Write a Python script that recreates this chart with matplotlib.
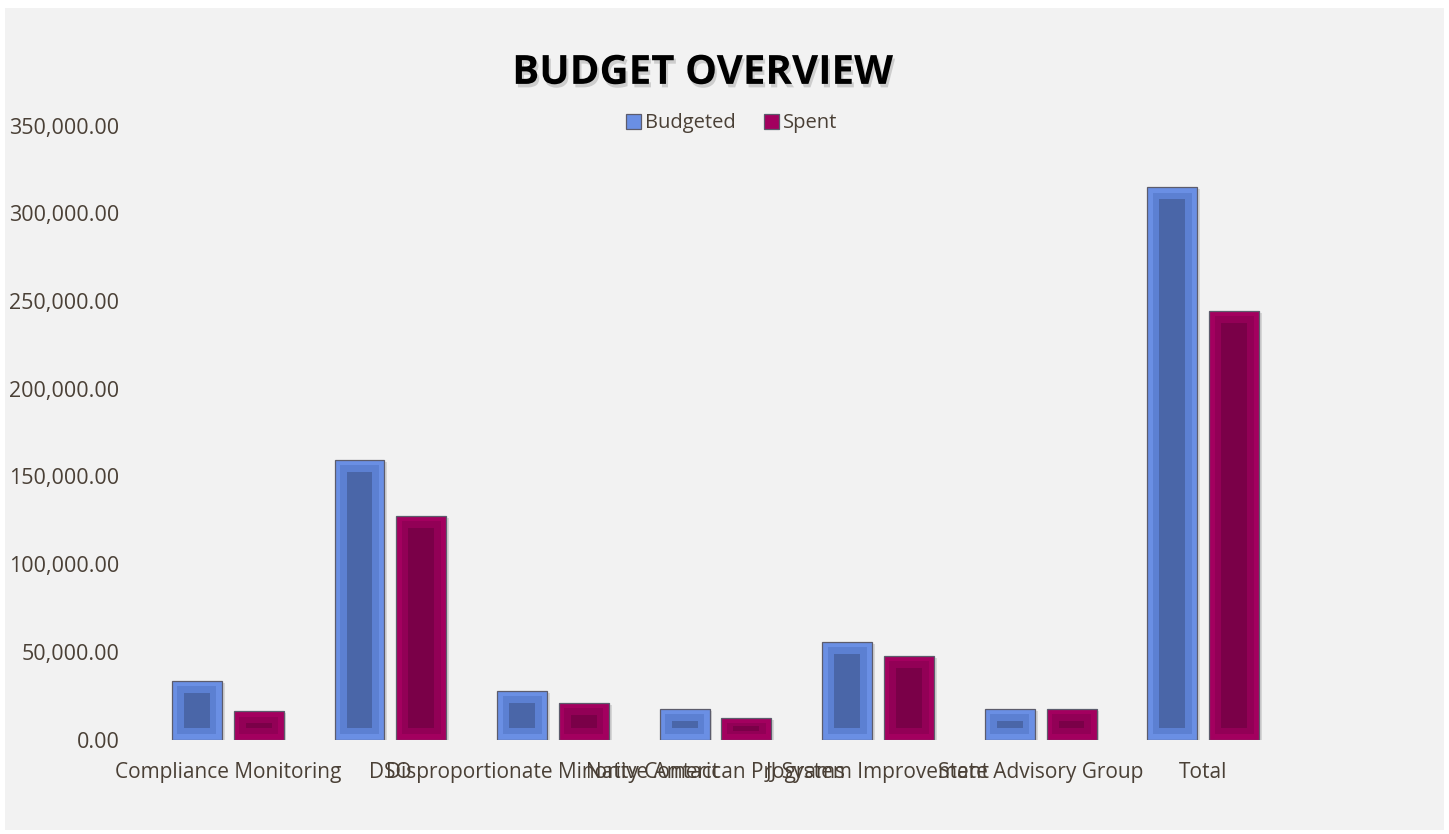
import matplotlib.pyplot as plt
import matplotlib.patheffects as pe
from matplotlib.patches import Rectangle
from matplotlib.ticker import FuncFormatter
import numpy as np

# Program budget figures
categories = [
    "Compliance Monitoring",
    "DSO",
    "Disproportionate Minority Contact",
    "Native American Programs",
    "JJ System Improvement",
    "State Advisory Group",
    "Total",
]
budgeted = [33520, 159320, 27820, 17390, 55750, 17560, 314770]
spent = [16070, 127400, 20980, 12430, 47770, 17560, 244430]

text_color = "#4a4036"

fig = plt.figure(figsize=(14.49, 8.34), dpi=100, facecolor="white")
# light grey chart panel behind everything
panel = Rectangle((5 / 1449, 4 / 834), 1439 / 1449, 822 / 834,
                  transform=fig.transFigure, facecolor="#f2f2f2",
                  edgecolor="none", zorder=-10)
fig.add_artist(panel)

ax = fig.add_axes([0.1011, 0.1133, 0.7854, 0.7362])
ax.set_facecolor("none")

x = np.arange(len(categories))
bar_w = 0.307
offset = 0.19
ymax = 350000
px_per_unit = (0.7362 * 834) / ymax
inset_x = 0.074
inset_px = 12


def bevel_bars(xpos, values, light, mid, dark, label):
    # outer frame with a soft drop shadow
    ax.bar(xpos, values, width=bar_w, color=light, edgecolor="#5c5c6c",
           linewidth=0.9, label=label, zorder=3,
           path_effects=[pe.SimplePatchShadow(offset=(2, -1.5), shadow_rgbFace="#a0a0a0",
                                              alpha=0.35), pe.Normal()])
    vals = np.array(values, dtype=float)
    heights_px = vals * px_per_unit
    # middle and inner bevel layers
    for frac, col in ((0.45, mid), (1.0, dark)):
        ins = np.minimum(inset_px * frac, heights_px * 0.4) / px_per_unit
        ax.bar(xpos, vals - 2 * ins, bottom=ins, width=bar_w - 2 * inset_x * frac,
               color=col, edgecolor="none", zorder=4)


bevel_bars(x - offset, budgeted, "#6a8fe4", "#5c80d2", "#4a66a8", "Budgeted")
bevel_bars(x + offset, spent, "#a3005f", "#920056", "#7a0048", "Spent")

ax.set_xlim(-0.5, len(categories) - 0.5)
ax.set_ylim(0, ymax)
ax.set_yticks(np.arange(0, ymax + 1, 50000))
ax.yaxis.set_major_formatter(FuncFormatter(lambda v, p: f"{v:,.2f}"))
ax.set_xticks(x)
ax.set_xticklabels(categories)

for s in ax.spines.values():
    s.set_visible(False)
ax.tick_params(axis="both", length=0, colors=text_color)
ax.tick_params(axis="y", pad=19.5, labelsize=15.5)
ax.tick_params(axis="x", pad=16.5, labelsize=15)
for lbl in ax.get_yticklabels() + ax.get_xticklabels():
    lbl.set_family("Open Sans")
    lbl.set_color(text_color)

# Title with a drop shadow
fig.text(0.485, 0.912, "BUDGET OVERVIEW", ha="center", va="center",
         fontsize=29, fontweight="bold", family="Open Sans", color="black",
         path_effects=[pe.SimplePatchShadow(offset=(1.5, -2.5), shadow_rgbFace="#888888",
                                            alpha=0.35), pe.Normal()])

leg = fig.legend(loc="center", bbox_to_anchor=(0.505, 0.852), ncol=2, frameon=False,
                 handlelength=0.75, handleheight=0.75, handletextpad=0.2,
                 columnspacing=1.4, prop={"family": "Open Sans", "size": 14.5})
for t in leg.get_texts():
    t.set_color(text_color)
for h in leg.legend_handles:
    h.set_path_effects([])

fig.savefig("out.png", dpi=100, facecolor=fig.get_facecolor())
